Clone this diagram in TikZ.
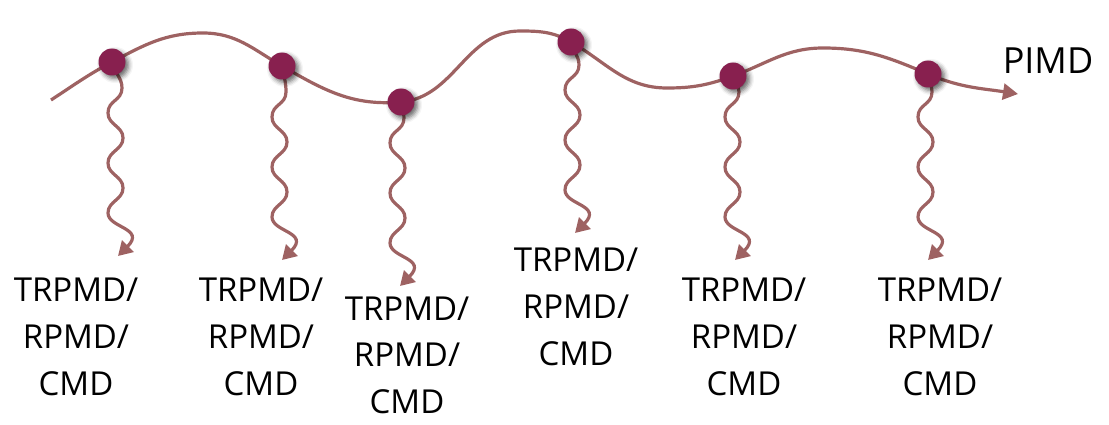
\documentclass[tikz,border=0pt]{standalone}
\usepackage{fontspec}
\setmainfont{Open Sans}
\usetikzlibrary{arrows.meta,shadows.blur,backgrounds}
\definecolor{linec}{RGB}{158,98,98}
\definecolor{dotc}{RGB}{136,32,79}
\tikzset{
  mainline/.style={draw=linec, line width=3.2pt, -{Triangle[length=15pt,width=16pt]}},
  waveline/.style={draw=linec, line width=3.2pt, -{Triangle[length=14pt,width=16pt]}},
  bead/.style={circle, fill=dotc, minimum size=27pt, inner sep=0pt,
    blur shadow={shadow xshift=3pt, shadow yshift=-3pt, shadow blur radius=4.5pt, shadow opacity=60}},
  lbl/.style={anchor=north, inner sep=0pt, align=center, font=\fontsize{33}{46.7}\selectfont},
}
\newcommand\wavyline[3]{%
  \draw[waveline] (#1.center) to[out=-80,in=90] (#2+14,-#3+25)
   .. controls (#2+14,-#3+12) and (#2,-#3+13) .. (#2,-#3)
   .. controls (#2,-#3-12) and (#2+15,-#3-13) .. (#2+15,-#3-25)
   .. controls (#2+15,-#3-37) and (#2,-#3-38) .. (#2,-#3-50)
   .. controls (#2,-#3-62) and (#2+15,-#3-63) .. (#2+15,-#3-75)
   .. controls (#2+15,-#3-87) and (#2,-#3-88) .. (#2,-#3-100)
   .. controls (#2,-#3-115) and (#2+38,-#3-115) .. (#2+10,-#3-143);}
\begin{document}
\begin{tikzpicture}[x=1pt,y=1pt]
\useasboundingbox (0,0) rectangle (1109,-425);
% beads
\node[bead] (d1) at (112,-62) {};
\node[bead] (d2) at (282,-66) {};
\node[bead] (d3) at (401,-102) {};
\node[bead] (d4) at (571,-42) {};
\node[bead] (d5) at (733,-76) {};
\node[bead] (d6) at (928,-74) {};
% helper coordinates of the main path
\coordinate (s) at (51,-100);
\coordinate (p1) at (203,-33);
\coordinate (p2) at (520,-31);
\coordinate (t1) at (667,-88);
\coordinate (p3) at (823,-48);
\coordinate (e) at (1018,-94);
\begin{pgfonlayer}{background}
\draw[mainline] (s) to[out=33,in=208] (d1.center) to[out=28,in=180] (p1)
  to[out=0,in=150] (d2.center) to[out=-30,in=185] (d3.center)
  to[out=5,in=180] (p2) to[out=0,in=150] (d4.center)
  to[out=-30,in=180] (t1) to[out=0,in=200] (d5.center)
  to[out=20,in=180] (p3) to[out=0,in=157] (d6.center)
  to[out=-23,in=171] (e);
\wavyline{d1}{108}{113}
\wavyline{d2}{272}{117}
\wavyline{d3}{390}{143}
\wavyline{d4}{565}{90}
\wavyline{d5}{725}{117}
\wavyline{d6}{918}{117}
\end{pgfonlayer}
% labels
\node[anchor=base, inner sep=0pt, font=\fontsize{36}{40}\selectfont] (pimd) at (1048,-73.3) {PIMD};
\node[lbl] (l1) at (76,-278) {TRPMD/\\RPMD/\\CMD};
\node[lbl] (l2) at (261,-278) {TRPMD/\\RPMD/\\CMD};
\node[lbl] (l3) at (407,-296.5) {TRPMD/\\RPMD/\\CMD};
\node[lbl] (l4) at (576,-248) {TRPMD/\\RPMD/\\CMD};
\node[lbl] (l5) at (744,-278) {TRPMD/\\RPMD/\\CMD};
\node[lbl] (l6) at (940,-278) {TRPMD/\\RPMD/\\CMD};
\end{tikzpicture}
\end{document}
